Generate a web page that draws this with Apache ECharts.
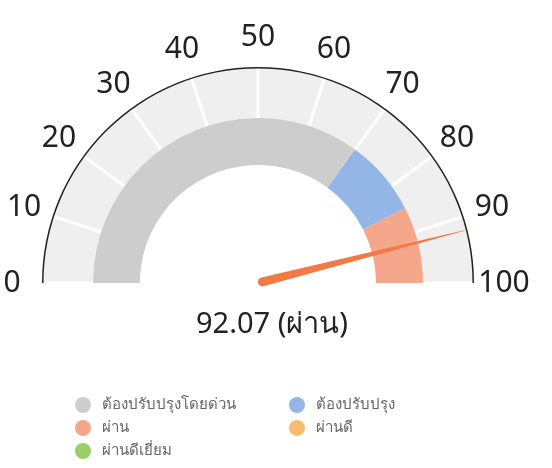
<!DOCTYPE html>
<html>
<head>
<meta charset="utf-8">
<script src="https://cdn.jsdelivr.net/npm/echarts@6/dist/echarts.min.js"></script>
<style>
  html, body { margin: 0; padding: 0; background: #fff; }
  #chart { width: 552px; height: 468px; }
</style>
</head>
<body>
<div id="chart"></div>
<script>
// gauge value and its band
const gaugeValue = 92.07;
const gaugeStatus = 'ผ่าน';
const gaugeMin = 0;
const gaugeMax = 100;
const gaugeSplits = 10;

// colored band stops (share of the scale) and legend names
const bandStops = [0.70, 0.85, 1];
const legendNames = ['ต้องปรับปรุงโดยด่วน', 'ต้องปรับปรุง', 'ผ่าน', 'ผ่านดี', 'ผ่านดีเยี่ยม'];
const legendColors = ['#cdcdcd', '#93b6e6', '#f4a78a', '#f8bd6c', '#9dcc6b'];

const chart = echarts.init(document.getElementById('chart'));
const font = '"Noto Sans", sans-serif';
const center = [258, 283];
const R = 216;

const base = {
  type: 'gauge',
  center: center,
  startAngle: 180,
  endAngle: 0,
  min: gaugeMin,
  max: gaugeMax,
  splitNumber: gaugeSplits,
  axisTick: { show: false },
  splitLine: { show: false },
  axisLabel: { show: false },
  pointer: { show: false },
  detail: { show: false },
  title: { show: false },
  silent: true
};

const legendBase = {
  orient: 'vertical',
  top: 397,
  height: 90,
  padding: 0,
  itemWidth: 16,
  itemHeight: 16,
  itemGap: 7,
  icon: 'circle',
  selectedMode: false,
  textStyle: { color: '#666', fontSize: 15, fontFamily: font, padding: [0, 0, 0, 6] }
};

const option = {
  animation: false,
  legend: [
    Object.assign({}, legendBase, { left: 75, data: [legendNames[0], legendNames[2], legendNames[4]] }),
    Object.assign({}, legendBase, { left: 289, data: [legendNames[1], legendNames[3]] })
  ],
  series: [
    // light outer band with white split lines
    Object.assign({}, base, {
      radius: R,
      axisLine: { lineStyle: { width: 51, color: [[1, '#efefef']] } },
      splitLine: { show: true, length: 51, distance: -51, lineStyle: { color: '#fff', width: 3 } }
    }),
    // colored inner band
    Object.assign({}, base, {
      radius: 165,
      axisLine: {
        lineStyle: {
          width: 47,
          color: bandStops.map((s, i) => [s, legendColors[i]])
        }
      }
    }),
    // outer black line, labels, pointer and value
    Object.assign({}, base, {
      radius: R,
      axisLine: { lineStyle: { width: 1.5, color: [[1, '#222']] } },
      splitLine: { show: false, length: 0, distance: 0 },
      axisLabel: {
        show: true,
        distance: -30,
        // a tiny non-zero rotate makes the labels centred on their anchor
        rotate: 0.0001,
        color: '#222',
        fontSize: 30,
        fontFamily: font
      },
      pointer: {
        show: true,
        icon: 'path://M4.2,0 L4.8,0 L9,209.5 A4.5,4.5 0 0 1 0,209.5 Z',
        length: 214,
        width: 9,
        itemStyle: { color: '#f47a45' }
      },
      detail: {
        show: true,
        offsetCenter: [14, 42],
        color: '#222',
        fontSize: 29,
        fontWeight: 'normal',
        fontFamily: font,
        formatter: v => v.toFixed(2) + ' (' + gaugeStatus + ')'
      },
      data: [{ value: gaugeValue }]
    }),
    // legend carrier
    {
      type: 'pie',
      radius: [0, 0],
      center: [-100, -100],
      silent: true,
      label: { show: false },
      data: legendNames.map((n, i) => ({ name: n, value: 1, itemStyle: { color: legendColors[i] } }))
    }
  ]
};

chart.setOption(option);
</script>
</body>
</html>
